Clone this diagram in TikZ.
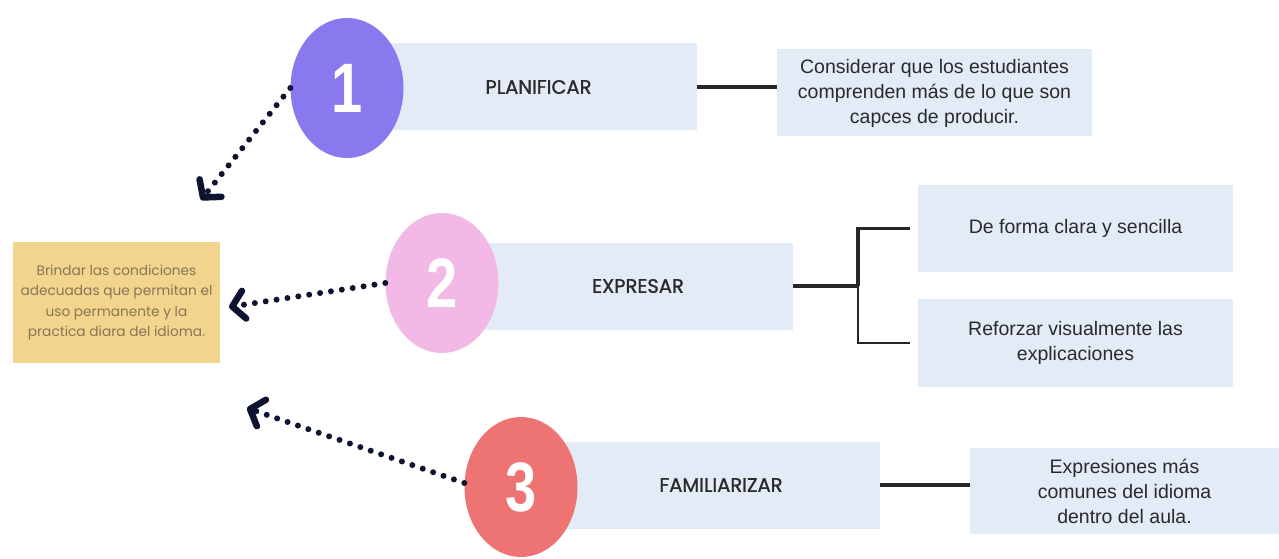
\documentclass[tikz,border=0pt]{standalone}
\usepackage{fontspec}
\setmainfont{Liberation Sans}
\newfontfamily\titlefont{Poppins}[FakeBold=1.2]
\newfontfamily\goalfont{Poppins}
\usetikzlibrary{arrows.meta, positioning, shapes.geometric, calc}
\definecolor{plpurple}{HTML}{8979EF}
\definecolor{plpink}{HTML}{F3B9E6}
\definecolor{plred}{HTML}{EE7373}
\definecolor{plblue}{HTML}{E2EBF6}
\definecolor{plyellow}{HTML}{F3D48C}
\definecolor{pldark}{HTML}{0E1430}
\definecolor{pltext}{HTML}{2A2A2A}
\definecolor{plbrown}{HTML}{857656}
\tikzset{
  stepnum/.style={ellipse, minimum width=113pt, minimum height=140pt, inner sep=0pt,
    text=white, font=\fontsize{70}{70}\selectfont\bfseries},
  stage/.style={rectangle, fill=plblue, minimum height=87pt,
    font=\titlefont\fontsize{19.5}{22}\selectfont, text=pltext},
  note/.style={rectangle, fill=plblue, minimum width=315pt, minimum height=87pt,
    align=center, font=\fontsize{19.5}{25}\selectfont, text=pltext},
  goal/.style={rectangle, fill=plyellow, minimum width=207pt, minimum height=121pt,
    align=center, font=\goalfont\fontsize{13.7}{20.5}\selectfont, text=plbrown},
  link/.style={line width=3.5pt, black!85},
  dotarr/.style={line width=6pt, dash pattern=on 0pt off 11pt, line cap=round, pldark,
    -{Straight Barb[length=12pt, width=28pt, line width=6.5pt, round]}},
}
\begin{document}
\begin{tikzpicture}[x=1pt, y=-1pt]
  \fill[white] (0,0) rectangle (1279,559);
  \useasboundingbox (0,0) rectangle (1279,559);
  % stages
  \node[stage, minimum width=317pt] (planificar) at (538.5,87) {PLANIFICAR};
  \node[stage, minimum width=310pt] (expresar) at (638,286) {EXPRESAR};
  \node[stage, minimum width=318pt] (familiarizar) at (721,485) {FAMILIARIZAR};
  \node[stepnum, fill=plpurple] (n1) at (347,88) {\scalebox{0.8}[1]{1}};
  \node[stepnum, fill=plpink] (n2) at (442,283) {\scalebox{0.8}[1]{2}};
  \node[stepnum, fill=plred] (n3) at (521,487) {\scalebox{0.8}[1]{3}};
  % notes
  \node[note] (considerar) at (934.5,93) {Considerar que los estudiantes\\comprenden más de lo que son\\capces de producir.};
  \node[note] (clara) at (1075.5,228.5) {De forma clara y sencilla};
  \node[note, minimum height=88pt, below=27pt of clara] (reforzar) {Reforzar visualmente las\\explicaciones};
  \node[note, minimum width=309pt, minimum height=86pt] (expresiones) at (1124.5,491) {Expresiones más\\comunes del idioma\\dentro del aula.};
  \node[goal] (brindar) at (116.5,302.5) {Brindar las condiciones\\adecuadas que permitan el\\uso permanente y la\\practica diara del idioma.};
  % connectors
  \draw[link] (planificar.east) -- (planificar.east -| considerar.west);
  \coordinate (fork) at ($(expresar.east)+(65,0)$);
  \draw[link] (expresar.east) -- (fork);
  \draw[link] ([xshift=-8pt]clara.west) -| (fork);
  \draw[link, line width=2pt] (fork) |- ([xshift=-8pt]reforzar.west);
  \draw[link] (familiarizar.east) -- (familiarizar.east -| expresiones.west);
  % dotted arrows
  \coordinate (tip1) at (201,200);
  \coordinate (tip2) at (229,307);
  \coordinate (tip3) at (247,408);
  \draw[dotarr] (n1.west) -- (tip1);
  \draw[dotarr] (n2.west) -- (tip2);
  \draw[dotarr] ([yshift=4pt]n3.west) -- (tip3);
\end{tikzpicture}
\end{document}
